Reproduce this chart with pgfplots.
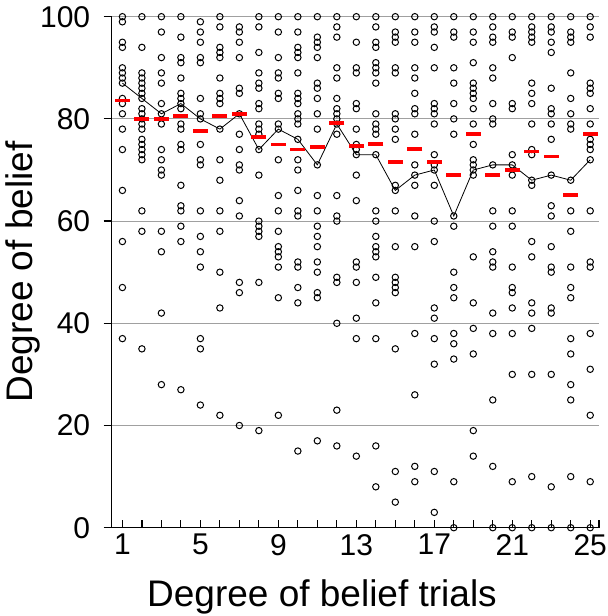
\documentclass[border=0pt]{standalone}
\usepackage{fontspec}
\setmainfont{Liberation Sans}
\usepackage{pgfplots}
\pgfplotsset{compat=1.18}
\definecolor{gridgray}{RGB}{160,160,160}
\begin{document}
\begin{tikzpicture}
\useasboundingbox (-111.7bp,-88.3bp) rectangle (496.3bp,527.7bp);
\begin{axis}[
  scale only axis, width=487.3bp, height=511bp,
  xmin=0.45, xmax=25.45, ymin=0, ymax=100,
  clip=false,
  axis x line*=bottom, axis y line*=left,
  axis line style={black, line width=1.5bp},
  xtick={1,...,25},
  xticklabels={1,,,,5,,,,9,,,,13,,,,17,,,,21,,,,25},
  extra x ticks={25.45}, extra x tick labels={},
  ytick={0,20,...,100},
  xtick align=inside, ytick align=outside,
  major tick length=8bp,
  tick style={black, line width=1.2bp},
  ymajorgrids, grid style={gridgray, line width=1bp},
  /pgf/number format/assume math mode=true,
  tick label style={font=\fontsize{30bp}{36bp}\selectfont},
  yticklabel style={xshift=-10bp},
  xticklabel style={yshift=-3bp},
]
\addplot[black, line width=0.8bp] table[row sep=\\] {
x y\\ 1 87\\ 2 84\\ 3 81\\ 4 83\\ 5 80\\ 6 78\\ 7 81\\ 8 74\\ 9 78\\ 10 76\\ 11 71\\ 12 79\\ 13 73\\
14 73\\ 15 66\\ 16 69\\ 17 70\\ 18 61\\ 19 70\\ 20 71\\ 21 71\\ 22 68\\ 23 69\\ 24 68\\ 25 72\\
};
\addplot[only marks, mark=o, mark size=3.2bp, mark options={black, fill=white, line width=1bp}] table[row sep=\\] {
x y\\
1 100\\ 1 99\\ 1 95\\ 1 94\\ 1 90\\ 1 89\\ 1 88\\ 1 87\\ 1 84\\ 1 83\\ 1 81\\ 1 78\\ 1 74\\ 1 66\\ 1 56\\ 1 47\\ 1 37\\
2 100\\ 2 94\\ 2 89\\ 2 88\\ 2 87\\ 2 86\\ 2 85\\ 2 84\\ 2 82\\ 2 81\\ 2 80\\ 2 79\\ 2 78\\ 2 76\\ 2 75\\ 2 74\\ 2 73\\ 2 72\\ 2 62\\ 2 58\\ 2 35\\
3 100\\ 3 97\\ 3 92\\ 3 89\\ 3 87\\ 3 83\\ 3 81\\ 3 79\\ 3 74\\ 3 72\\ 3 70\\ 3 69\\ 3 58\\ 3 54\\ 3 42\\ 3 28\\
4 100\\ 4 96\\ 4 92\\ 4 91\\ 4 88\\ 4 85\\ 4 84\\ 4 83\\ 4 82\\ 4 79\\ 4 78\\ 4 75\\ 4 74\\ 4 67\\ 4 63\\ 4 62\\ 4 59\\ 4 56\\ 4 27\\
5 99\\ 5 97\\ 5 95\\ 5 92\\ 5 91\\ 5 84\\ 5 81\\ 5 80\\ 5 75\\ 5 72\\ 5 71\\ 5 62\\ 5 57\\ 5 54\\ 5 51\\ 5 37\\ 5 35\\ 5 24\\
6 100\\ 6 98\\ 6 94\\ 6 93\\ 6 92\\ 6 88\\ 6 85\\ 6 84\\ 6 83\\ 6 78\\ 6 72\\ 6 68\\ 6 62\\ 6 58\\ 6 50\\ 6 43\\ 6 22\\
7 98\\ 7 97\\ 7 95\\ 7 92\\ 7 86\\ 7 85\\ 7 81\\ 7 77\\ 7 74\\ 7 71\\ 7 70\\ 7 64\\ 7 61\\ 7 48\\ 7 46\\ 7 20\\
8 100\\ 8 98\\ 8 93\\ 8 89\\ 8 87\\ 8 86\\ 8 83\\ 8 82\\ 8 79\\ 8 78\\ 8 77\\ 8 74\\ 8 69\\ 8 60\\ 8 59\\ 8 58\\ 8 57\\ 8 48\\ 8 19\\
9 100\\ 9 97\\ 9 92\\ 9 89\\ 9 88\\ 9 85\\ 9 84\\ 9 79\\ 9 78\\ 9 72\\ 9 65\\ 9 62\\ 9 58\\ 9 55\\ 9 54\\ 9 53\\ 9 51\\ 9 45\\ 9 22\\
10 100\\ 10 97\\ 10 94\\ 10 93\\ 10 92\\ 10 89\\ 10 85\\ 10 84\\ 10 83\\ 10 81\\ 10 80\\ 10 79\\ 10 76\\ 10 72\\ 10 70\\ 10 66\\ 10 62\\ 10 61\\ 10 52\\ 10 51\\ 10 47\\ 10 44\\ 10 15\\
11 100\\ 11 96\\ 11 95\\ 11 94\\ 11 92\\ 11 87\\ 11 86\\ 11 84\\ 11 81\\ 11 78\\ 11 71\\ 11 65\\ 11 62\\ 11 59\\ 11 57\\ 11 55\\ 11 52\\ 11 50\\ 11 46\\ 11 45\\ 11 17\\
12 100\\ 12 98\\ 12 96\\ 12 90\\ 12 88\\ 12 84\\ 12 82\\ 12 81\\ 12 80\\ 12 79\\ 12 77\\ 12 65\\ 12 61\\ 12 60\\ 12 49\\ 12 48\\ 12 40\\ 12 23\\ 12 16\\
13 100\\ 13 95\\ 13 90\\ 13 89\\ 13 83\\ 13 82\\ 13 78\\ 13 75\\ 13 74\\ 13 73\\ 13 69\\ 13 64\\ 13 52\\ 13 51\\ 13 48\\ 13 41\\ 13 37\\ 13 14\\
14 100\\ 14 98\\ 14 95\\ 14 94\\ 14 91\\ 14 90\\ 14 89\\ 14 87\\ 14 81\\ 14 79\\ 14 78\\ 14 77\\ 14 73\\ 14 62\\ 14 60\\ 14 57\\ 14 55\\ 14 54\\ 14 53\\ 14 49\\ 14 44\\ 14 37\\ 14 16\\ 14 8\\
15 100\\ 15 97\\ 15 96\\ 15 95\\ 15 90\\ 15 89\\ 15 81\\ 15 80\\ 15 78\\ 15 76\\ 15 67\\ 15 66\\ 15 62\\ 15 55\\ 15 49\\ 15 48\\ 15 47\\ 15 46\\ 15 35\\ 15 11\\ 15 5\\
16 100\\ 16 97\\ 16 95\\ 16 90\\ 16 88\\ 16 85\\ 16 82\\ 16 81\\ 16 77\\ 16 71\\ 16 69\\ 16 67\\ 16 61\\ 16 55\\ 16 38\\ 16 26\\ 16 12\\ 16 9\\
17 100\\ 17 98\\ 17 97\\ 17 94\\ 17 90\\ 17 83\\ 17 82\\ 17 81\\ 17 79\\ 17 73\\ 17 71\\ 17 70\\ 17 67\\ 17 60\\ 17 56\\ 17 43\\ 17 41\\ 17 37\\ 17 32\\ 17 11\\ 17 3\\
18 100\\ 18 97\\ 18 96\\ 18 90\\ 18 87\\ 18 83\\ 18 80\\ 18 77\\ 18 61\\ 18 59\\ 18 50\\ 18 47\\ 18 45\\ 18 38\\ 18 36\\ 18 33\\ 18 9\\ 18 0\\
19 100\\ 19 97\\ 19 95\\ 19 91\\ 19 87\\ 19 86\\ 19 85\\ 19 84\\ 19 82\\ 19 79\\ 19 75\\ 19 72\\ 19 71\\ 19 70\\ 19 69\\ 19 53\\ 19 44\\ 19 39\\ 19 34\\ 19 19\\ 19 14\\
20 100\\ 20 98\\ 20 96\\ 20 95\\ 20 90\\ 20 88\\ 20 83\\ 20 80\\ 20 79\\ 20 71\\ 20 62\\ 20 59\\ 20 54\\ 20 52\\ 20 51\\ 20 42\\ 20 38\\ 20 25\\ 20 12\\ 20 0\\
21 100\\ 21 97\\ 21 96\\ 21 92\\ 21 83\\ 21 82\\ 21 73\\ 21 71\\ 21 69\\ 21 62\\ 21 59\\ 21 51\\ 21 47\\ 21 46\\ 21 43\\ 21 38\\ 21 30\\ 21 9\\ 21 0\\
22 100\\ 22 98\\ 22 97\\ 22 96\\ 22 95\\ 22 87\\ 22 85\\ 22 83\\ 22 79\\ 22 74\\ 22 73\\ 22 68\\ 22 67\\ 22 56\\ 22 53\\ 22 44\\ 22 42\\ 22 39\\ 22 30\\ 22 10\\ 22 0\\
23 100\\ 23 98\\ 23 97\\ 23 95\\ 23 93\\ 23 86\\ 23 82\\ 23 81\\ 23 79\\ 23 76\\ 23 69\\ 23 63\\ 23 61\\ 23 55\\ 23 51\\ 23 50\\ 23 43\\ 23 42\\ 23 30\\ 23 8\\ 23 0\\
24 100\\ 24 97\\ 24 96\\ 24 95\\ 24 89\\ 24 84\\ 24 81\\ 24 79\\ 24 78\\ 24 68\\ 24 62\\ 24 58\\ 24 51\\ 24 47\\ 24 45\\ 24 37\\ 24 34\\ 24 28\\ 24 25\\ 24 10\\ 24 0\\
25 100\\ 25 98\\ 25 96\\ 25 87\\ 25 86\\ 25 85\\ 25 82\\ 25 79\\ 25 76\\ 25 75\\ 25 74\\ 25 72\\ 25 62\\ 25 52\\ 25 51\\ 25 38\\ 25 31\\ 25 22\\ 25 9\\ 25 0\\
};
\addplot[only marks, mark=-, mark size=7.5bp, mark options={red, line width=3.5bp}] table[row sep=\\] {
x y\\ 1 83.6\\ 2 80\\ 3 80\\ 4 80.6\\ 5 77.6\\ 6 80.6\\ 7 81\\ 8 76.5\\ 9 75\\ 10 74\\ 11 74.5\\ 12 79.2\\ 13 74.7\\
14 75.1\\ 15 71.6\\ 16 74.1\\ 17 71.6\\ 18 69\\ 19 77\\ 20 69\\ 21 70\\ 22 73.6\\ 23 72.6\\ 24 65.1\\ 25 77\\
};
\end{axis}
\node[rotate=90, anchor=base, font=\fontsize{37bp}{44bp}\selectfont] at (-78.7bp,255.7bp) {Degree of belief};
\node[anchor=base, font=\fontsize{37bp}{44bp}\selectfont] at (210.3bp,-79bp) {Degree of belief trials};
\end{tikzpicture}
\end{document}
